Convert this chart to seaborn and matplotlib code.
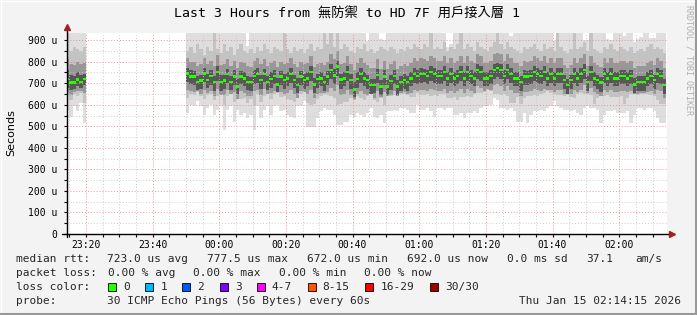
import numpy as np
import matplotlib
matplotlib.use("Agg")
import matplotlib.pyplot as plt
import seaborn as sns
from matplotlib.lines import Line2D
from matplotlib.patches import Rectangle
from matplotlib.ticker import MultipleLocator

# ---------------- data ----------------
title = "Last 3 Hours from 無防禦 to HD 7F 用戶接入層 1"
y_label = "Seconds"
y_ticks = [0, 100, 200, 300, 400, 500, 600, 700, 800, 900]          # microseconds
y_tick_labels = ["0", "100 u", "200 u", "300 u", "400 u", "500 u",
                 "600 u", "700 u", "800 u", "900 u"]
x_ticks = [-40, -20, 0, 20, 40, 60, 80, 100, 120]                    # minutes from 00:00
x_tick_labels = ["23:20", "23:40", "00:00", "00:20", "00:40",
                 "01:00", "01:20", "01:40", "02:00"]
x_range = [-45.75, 134.25]       # 23:14:15 .. 02:14:15
y_range = [0, 933]

# segment 1: 23:14 - 23:20
seg1_start = -46
seg1_median = [720, 702, 702, 717, 705, 720]
seg1_min = [577, 545, 592, 569, 608, 514]
seg1_max = [960, 960, 960, 960, 960, 960]
seg1_lo = [640, 620, 650, 640, 655, 610]
seg1_hi = [945, 850, 870, 860, 850, 870]
seg1_mid_lo = [660, 645, 660, 665, 665, 655]
seg1_mid_hi = [810, 790, 785, 800, 790, 795]
seg1_core_lo = [680, 670, 675, 685, 680, 690]
seg1_core_hi = [760, 740, 735, 750, 740, 745]

# segment 2: 23:50 - 02:14
seg2_start = -10
seg2_median = [
    744, 730, 730, 705, 712, 744, 714, 733, 705, 752, 705, 712, 742, 705, 730, 686, 730, 723,
    705, 705, 733, 742, 714, 742, 705, 720, 733, 695, 730, 714, 723, 742, 714, 692, 730, 714,
    723, 752, 695, 720, 723, 705, 730, 761, 736, 777, 717, 723, 752, 714, 672, 720, 742, 723,
    714, 692, 692, 739, 686, 730, 686, 711, 733, 686, 705, 714, 705, 723, 742, 733, 742, 742,
    733, 752, 742, 733, 733, 752, 723, 742, 723, 733, 752, 723, 752, 733, 723, 761, 752, 723,
    723, 733, 761, 770, 761, 733, 761, 742, 723, 723, 705, 730, 730, 733, 752, 742, 733, 752,
    723, 742, 723, 742, 742, 714, 692, 714, 742, 723, 742, 761, 705, 752, 723, 714, 702, 742,
    723, 742, 723, 723, 733, 733, 723, 733, 695, 705, 705, 705, 723, 733, 714, 742, 733, 692]
seg2_min = [
    561, 600, 592, 616, 592, 553, 584, 600, 553, 577, 592, 483, 577, 592, 522, 577, 553, 561,
    537, 553, 483, 592, 537, 577, 592, 553, 592, 600, 569, 577, 553, 545, 537, 592, 592, 616,
    498, 498, 498, 538, 569, 584, 577, 577, 553, 506, 506, 522, 522, 553, 545, 561, 553, 545,
    561, 584, 545, 538, 553, 514, 569, 569, 577, 569, 584, 584, 577, 561, 561, 600, 577, 577,
    584, 569, 545, 584, 584, 577, 584, 584, 553, 553, 561, 538, 561, 561, 569, 561, 584, 592,
    592, 600, 631, 623, 584, 584, 577, 584, 569, 522, 522, 561, 514, 553, 569, 569, 577, 569,
    584, 592, 616, 592, 584, 577, 577, 569, 577, 561, 553, 584, 592, 584, 584, 577, 514, 553,
    569, 569, 577, 561, 561, 561, 569, 514, 553, 584, 584, 577, 584, 584, 569, 538, 514, 514]
seg2_max = [
    960, 960, 960, 960, 960, 960, 960, 960, 960, 960, 960, 960, 960, 960, 960, 960, 960, 960,
    873, 960, 960, 960, 960, 960, 960, 960, 960, 960, 960, 960, 960, 960, 960, 960, 960, 960,
    960, 960, 960, 960, 960, 960, 960, 960, 960, 960, 960, 960, 960, 960, 960, 960, 960, 960,
    897, 960, 960, 960, 905, 900, 960, 960, 960, 960, 960, 960, 960, 960, 960, 960, 935, 960,
    960, 960, 960, 960, 960, 960, 867, 880, 960, 960, 960, 960, 960, 960, 960, 960, 960, 960,
    960, 960, 960, 960, 960, 960, 960, 920, 960, 960, 960, 960, 960, 960, 960, 960, 960, 960,
    960, 960, 897, 960, 960, 960, 960, 960, 960, 960, 960, 900, 900, 960, 960, 960, 960, 960,
    905, 900, 960, 960, 960, 920, 960, 960, 890, 905, 915, 960, 960, 910, 910, 960, 960, 960]
seg2_lo = [
    630, 650, 645, 660, 640, 625, 645, 650, 620, 640, 645, 600, 640, 650, 615, 640, 625, 630,
    610, 625, 600, 650, 615, 640, 650, 625, 650, 655, 635, 640, 625, 620, 615, 645, 650, 660,
    610, 600, 605, 625, 640, 650, 645, 640, 630, 600, 605, 615, 615, 630, 620, 640, 630, 620,
    640, 650, 620, 615, 630, 600, 640, 640, 645, 640, 650, 650, 645, 635, 635, 655, 645, 645,
    650, 640, 645, 640, 650, 650, 630, 630, 635, 620, 635, 635, 640, 635, 650, 655, 655, 660,
    670, 665, 650, 650, 645, 650, 640, 610, 610, 635, 605, 630, 640, 640, 645, 640, 650, 655,
    665, 655, 650, 645, 645, 640, 645, 635, 630, 650, 655, 650, 650, 645, 605, 630, 640, 640,
    645, 635, 635, 635, 640, 605, 630, 650, 650, 645, 650, 650, 650, 645, 640, 620, 605, 605]
seg2_hi = [
    850, 870, 840, 880, 860, 830, 870, 850, 945, 860, 840, 880, 850, 870, 830, 860, 880, 850,
    840, 860, 840, 870, 850, 880, 860, 840, 870, 860, 850, 945, 860, 840, 870, 850, 860, 840,
    860, 880, 850, 870, 860, 945, 880, 945, 870, 945, 860, 880, 870, 850, 840, 870, 860, 880,
    850, 860, 840, 850, 870, 860, 850, 870, 860, 840, 860, 850, 870, 860, 880, 870, 860, 880,
    870, 945, 860, 870, 860, 890, 850, 870, 860, 880, 945, 860, 880, 870, 850, 890, 870, 860,
    850, 870, 890, 945, 880, 860, 890, 870, 860, 850, 840, 870, 860, 870, 880, 860, 850, 880,
    860, 870, 850, 945, 870, 850, 840, 860, 945, 860, 870, 890, 850, 945, 860, 850, 840, 870,
    860, 880, 860, 850, 870, 860, 850, 870, 840, 850, 860, 850, 870, 880, 860, 870, 860, 840]
seg2_mid_lo = [
    670, 665, 660, 665, 650, 670, 655, 665, 640, 675, 645, 645, 670, 650, 660, 625, 665, 655,
    640, 640, 665, 670, 645, 675, 650, 655, 665, 660, 660, 650, 655, 670, 650, 630, 665, 660,
    650, 670, 630, 650, 655, 655, 660, 680, 665, 690, 645, 650, 670, 645, 625, 650, 665, 650,
    645, 650, 630, 665, 635, 660, 642, 645, 665, 642, 655, 660, 652, 655, 670, 665, 670, 670,
    665, 675, 670, 665, 665, 675, 655, 665, 655, 665, 675, 655, 675, 665, 655, 685, 680, 665,
    675, 670, 690, 695, 685, 665, 685, 670, 655, 655, 640, 660, 660, 665, 675, 670, 665, 675,
    670, 670, 660, 670, 670, 650, 648, 650, 670, 660, 670, 690, 655, 680, 660, 650, 640, 670,
    660, 670, 660, 660, 665, 665, 660, 665, 652, 650, 655, 655, 660, 665, 650, 670, 665, 630]
seg2_mid_hi = [
    815, 800, 800, 780, 790, 815, 790, 805, 780, 830, 785, 790, 810, 780, 805, 770, 800, 795,
    780, 775, 805, 815, 790, 810, 780, 795, 805, 775, 800, 790, 795, 815, 790, 775, 800, 790,
    795, 825, 775, 790, 795, 785, 800, 835, 810, 850, 790, 795, 825, 790, 760, 795, 815, 795,
    785, 770, 770, 810, 765, 805, 765, 790, 805, 765, 780, 790, 780, 795, 815, 805, 815, 810,
    805, 825, 815, 805, 805, 825, 795, 815, 795, 805, 825, 795, 825, 805, 795, 835, 825, 795,
    795, 805, 835, 840, 835, 805, 835, 815, 795, 795, 780, 805, 800, 805, 825, 815, 805, 825,
    795, 815, 795, 815, 815, 785, 770, 785, 815, 795, 815, 835, 780, 825, 795, 785, 775, 815,
    795, 815, 795, 795, 805, 805, 795, 805, 770, 780, 780, 780, 795, 805, 785, 815, 805, 770]
seg2_core_lo = [
    705, 695, 690, 670, 675, 705, 680, 690, 665, 710, 665, 675, 700, 670, 690, 650, 695, 685,
    670, 665, 695, 700, 675, 705, 670, 680, 695, 660, 690, 675, 685, 700, 680, 655, 690, 675,
    685, 710, 655, 680, 685, 665, 690, 720, 695, 735, 675, 685, 710, 675, 635, 680, 700, 685,
    675, 650, 655, 700, 645, 690, 645, 670, 695, 645, 665, 675, 665, 685, 700, 695, 700, 705,
    695, 710, 700, 695, 695, 710, 685, 700, 685, 695, 710, 685, 710, 695, 685, 720, 710, 685,
    685, 695, 720, 730, 720, 695, 720, 700, 685, 685, 665, 690, 690, 695, 710, 700, 695, 710,
    685, 700, 685, 700, 700, 675, 650, 675, 700, 685, 700, 720, 665, 710, 685, 675, 660, 700,
    685, 700, 685, 685, 695, 695, 685, 695, 655, 665, 665, 665, 685, 695, 675, 700, 695, 650]
seg2_core_hi = [
    770, 760, 755, 735, 740, 770, 745, 760, 735, 780, 740, 740, 765, 735, 760, 720, 755, 750,
    735, 730, 760, 770, 740, 765, 735, 750, 760, 725, 755, 745, 750, 770, 740, 725, 755, 745,
    750, 780, 725, 745, 750, 735, 755, 790, 765, 805, 745, 750, 780, 745, 705, 750, 770, 750,
    740, 720, 720, 765, 715, 760, 715, 740, 760, 715, 735, 745, 735, 750, 770, 760, 770, 765,
    760, 780, 770, 760, 760, 780, 750, 770, 750, 760, 780, 750, 780, 760, 750, 790, 780, 750,
    750, 760, 790, 795, 790, 760, 790, 770, 750, 750, 735, 760, 755, 760, 780, 770, 760, 780,
    750, 770, 750, 770, 770, 740, 720, 740, 770, 750, 770, 790, 735, 780, 750, 740, 730, 770,
    750, 770, 750, 750, 760, 760, 750, 760, 725, 735, 735, 735, 750, 760, 740, 770, 760, 720]

# legend text
stat_line1 = ["median rtt:", "723.0 us avg", "777.5 us max", "672.0 us min",
              "692.0 us now", "0.0 ms sd", "37.1", "am/s"]
stat_line2 = ["packet loss:", "0.00 % avg", "0.00 % max", "0.00 % min", "0.00 % now"]
loss_labels = ["0", "1", "2", "3", "4-7", "8-15", "16-29", "30/30"]
loss_colors = ["#26ff00", "#00b8ff", "#0059ff", "#7e00ff", "#ff00ff",
               "#ff5500", "#ff0000", "#a00000"]
probe_text = "30 ICMP Echo Pings (56 Bytes) every 60s"
date_text = "Thu Jan 15 02:14:15 2026"
credit = "RRDTOOL / TOBI OETIKER"

# ---------------- style ----------------
W, H = 697, 315
sns.set_theme(style="white")
plt.rcParams["font.family"] = ["DejaVu Sans Mono", "Noto Sans CJK TC"]
MONO = ["DejaVu Sans Mono", "Noto Sans CJK TC"]

fig = plt.figure(figsize=(W / 100, H / 100), dpi=100, facecolor="#f3f3f3")


def fx(x):
    return x / W


def fy(y):
    return 1 - y / H


ax = fig.add_axes([fx(66.7), fy(234), 600 / W, 201 / H])
ax.set_facecolor("white")

segments = [
    (seg1_start, seg1_median,
     [(seg1_min, seg1_max), (seg1_lo, seg1_hi), (seg1_mid_lo, seg1_mid_hi), (seg1_core_lo, seg1_core_hi)]),
    (seg2_start, seg2_median,
     [(seg2_min, seg2_max), (seg2_lo, seg2_hi), (seg2_mid_lo, seg2_mid_hi), (seg2_core_lo, seg2_core_hi)]),
]
smoke_colors = ["#dedede", "#c3c3c3", "#979797", "#575757"]


def steps(start, vals):
    x = start + np.arange(len(vals) + 1)
    v = np.append(np.asarray(vals, float), vals[-1])
    return x, v


for start, med, bands in segments:
    for (a, b), col in zip(bands, smoke_colors):
        x, ya = steps(start, a)
        _, yb = steps(start, b)
        ax.fill_between(x, ya, yb, step="post", color=col, lw=0, zorder=1)
    x, ym = steps(start, med)
    ax.fill_between(x, ym - 6, ym + 6, step="post", color=loss_colors[0], lw=0, zorder=3)

ax.set_xlim(*x_range)
ax.set_ylim(*y_range)
ax.set_xticks(x_ticks)
ax.set_xticklabels(x_tick_labels)
ax.set_yticks(y_ticks)
ax.set_yticklabels(y_tick_labels)
ax.xaxis.set_minor_locator(MultipleLocator(5))
ax.yaxis.set_minor_locator(MultipleLocator(50))
ax.set_axisbelow(False)
ax.grid(which="minor", color="#c8c8c8", ls=(0, (1, 2)), lw=0.7, alpha=0.9)
ax.grid(which="major", color="#e68a8a", ls=(0, (1, 2)), lw=0.7, alpha=0.9)
ax.tick_params(which="both", direction="out", length=2.5, width=0.8, color="black",
               bottom=True, left=True, labelsize=7, labelcolor="#000000")
ax.tick_params(axis="y", pad=4.5)
ax.tick_params(axis="x", pad=1.5)
for t in ax.get_xticklabels() + ax.get_yticklabels():
    t.set_family(MONO)
for s in ["top", "right", "left", "bottom"]:
    ax.spines[s].set_visible(False)

# axis lines with arrows
ax.add_line(Line2D([0, 0], [-0.015, 1.03], transform=ax.transAxes, color="black",
                   lw=1, clip_on=False, zorder=5))
ax.add_line(Line2D([-0.008, 1.008], [0, 0], transform=ax.transAxes, color="black",
                   lw=1, clip_on=False, zorder=5))
ax.plot([0], [1.028], marker="^", ms=4.5, color="#a02020", transform=ax.transAxes,
        clip_on=False, zorder=6)
ax.plot([1.008], [0], marker=">", ms=4.5, color="#a02020", transform=ax.transAxes,
        clip_on=False, zorder=6)

# title and labels
fig.text(fx(347), fy(14), title, ha="center", va="center", fontsize=9.5,
         family=MONO, color="black")
fig.text(fx(11), fy(133), y_label, rotation=90, ha="center", va="center",
         fontsize=8, family=["DejaVu Sans"], color="black")
fig.text(fx(688.5), fy(60), credit, rotation=270, ha="center", va="center",
         fontsize=6, family=MONO, color="#b0b0b0")

# legend
L1, L2, L3, L4 = 259, 273, 287, 301
x1 = [16, 106.7, 206.7, 306.7, 406.7, 506.7, 585.8, 635.6]
for x, s in zip(x1, stat_line1):
    fig.text(fx(x), fy(L1), s, ha="left", va="center", fontsize=8, family=MONO)
x2 = [16, 107.6, 193.3, 279, 364.4]
for x, s in zip(x2, stat_line2):
    fig.text(fx(x), fy(L2), s, ha="left", va="center", fontsize=8, family=MONO)
fig.text(fx(16), fy(L3), "loss color:", ha="left", va="center", fontsize=8, family=MONO)
box_x = [108, 145.3, 182.2, 220, 256.9, 307.6, 365.3, 430.2]
for bx, lab, col in zip(box_x, loss_labels, loss_colors):
    fig.add_artist(Rectangle((fx(bx), fy(L3 + 4)), 8 / W, 8 / H, transform=fig.transFigure,
                             facecolor=col, edgecolor="black", lw=0.6))
    fig.text(fx(bx + 15), fy(L3), lab, ha="left", va="center", fontsize=8, family=MONO)
fig.text(fx(16), fy(L4), "probe:", ha="left", va="center", fontsize=8, family=MONO)
fig.text(fx(106.7), fy(L4), probe_text, ha="left", va="center", fontsize=8, family=MONO)
fig.text(fx(681), fy(L4), date_text, ha="right", va="center", fontsize=8, family=MONO)

# frame
fig.add_artist(Line2D([0, 1], [fy(0.5), fy(0.5)], transform=fig.transFigure, color="#ffffff", lw=1))
fig.add_artist(Line2D([fx(0.5), fx(0.5)], [0, 1], transform=fig.transFigure, color="#ffffff", lw=1))
fig.add_artist(Line2D([0, 1], [fy(313.5), fy(313.5)], transform=fig.transFigure, color="#999999", lw=1.5))
fig.add_artist(Line2D([fx(695.5), fx(695.5)], [0, 1], transform=fig.transFigure, color="#999999", lw=1.5))

fig.savefig("out.png", dpi=100, facecolor=fig.get_facecolor())
